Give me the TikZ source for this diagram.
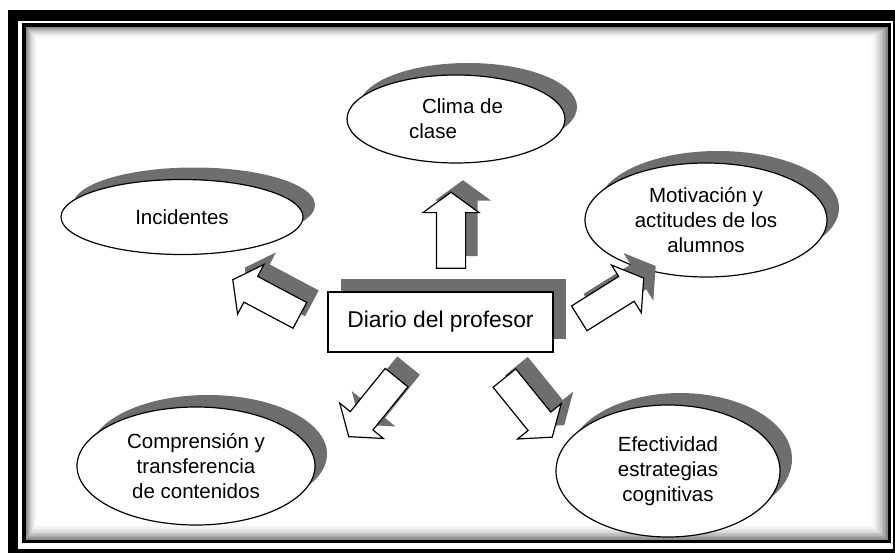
\documentclass[tikz,border=0pt]{standalone}
\usepackage{fontspec}
\newfontfamily\arial{Liberation Sans}
\usetikzlibrary{shapes.geometric,shapes.arrows,shadows}
\definecolor{sombragris}{HTML}{6E6E6E}
\tikzstyle{sombra} = [drop shadow={shadow xshift=12pt, shadow yshift=12pt, fill=sombragris, opacity=1}]
\tikzstyle{tema} = [ellipse, draw=black, fill=white, line width=1.2pt, inner sep=0pt, align=center, font=\arial\fontsize{20.5}{25}\selectfont, sombra]
\tikzstyle{caja} = [rectangle, draw=black, fill=white, line width=1.2pt, minimum width=225pt, minimum height=60pt, font=\arial\fontsize{22.8}{27}\selectfont, drop shadow={shadow xshift=13pt, shadow yshift=13pt, fill=sombragris, opacity=1}]
\tikzstyle{flecha} = [single arrow, draw=black, fill=white, line width=1.2pt, minimum height=76pt, minimum width=55pt, single arrow head extend=13.5pt, single arrow tip angle=108, inner xsep=0pt, inner ysep=14pt, sombra]

\begin{document}
\begin{tikzpicture}[x=1pt, y=-1pt]
	\useasboundingbox (0,0) rectangle (895,554);
	% marco
	\fill[black] (8,10) rectangle (896,553);
	\fill[white] (18,21) rectangle (893,549);
	\fill[black] (22,23) rectangle (891,543);
	\foreach \i [evaluate=\i as \g using 48*(1-\i/12)^2] in {0,...,12}
		\fill[black!\g] (26+\i,27+\i) rectangle (888-1.6*\i,540-1.4*\i);
	% temas
	\node[tema, minimum width=218pt, minimum height=88pt, align=left] (clima) at (456,119) {\hspace*{13pt}Clima de\\clase};
	\node[tema, minimum width=242pt, minimum height=75pt] (incidentes) at (182,217) {Incidentes};
	\node[tema, minimum width=242pt, minimum height=114pt] (motivacion) at (706,220) {Motivación y\\actitudes de los\\alumnos};
	\node[tema, minimum width=238pt, minimum height=118pt] (comprension) at (196,466) {Comprensión y\\transferencia\\de contenidos};
	\node[tema, minimum width=224pt, minimum height=132pt] (efectividad) at (668,471) {Efectividad\\estrategias\\cognitivas};
	\node[caja] (diario) at (440.5,322) {Diario del profesor};
	% flechas
	\node[flecha, rotate=90] (fclima) at (451,235.5) {};
	\node[flecha, rotate=152] (fincidentes) at (271,300) {};
	\node[flecha, rotate=32] (fmotivacion) at (607,301) {};
	\node[flecha, rotate=231] (fcomprension) at (376,403) {};
	\node[flecha, rotate=-51] (fefectividad) at (525,403.5) {};
\end{tikzpicture}
\end{document}
